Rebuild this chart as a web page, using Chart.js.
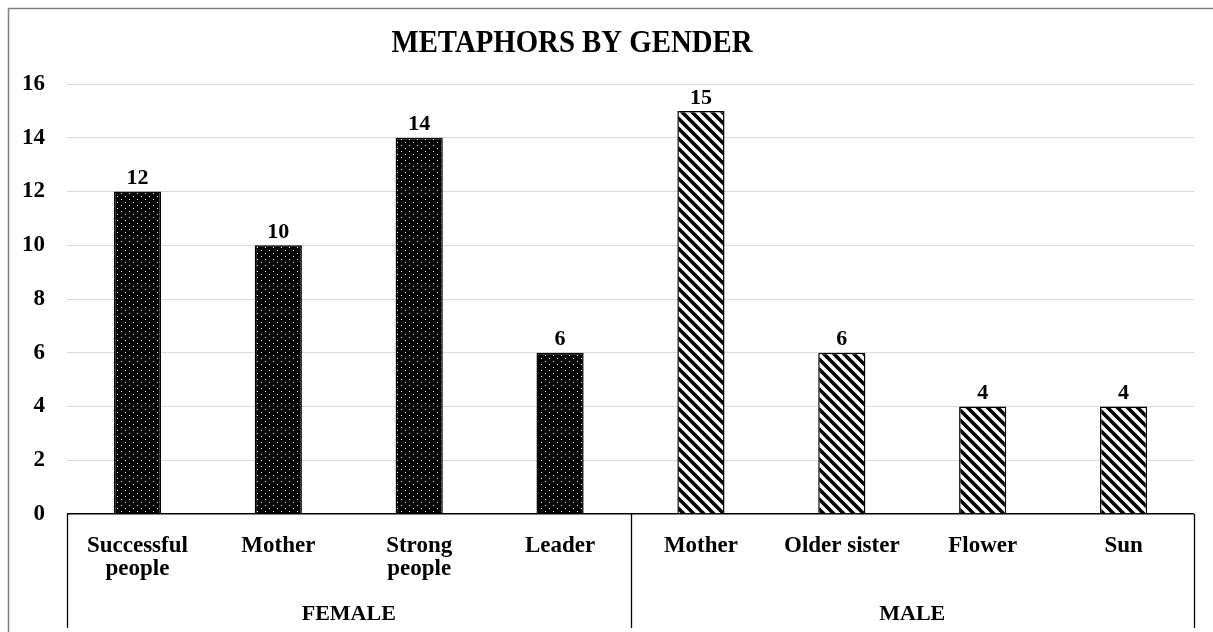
<!DOCTYPE html>
<html>
<head>
<meta charset="utf-8">
<title>Metaphors by gender</title>
<script src="https://cdn.jsdelivr.net/npm/chart.js@4/dist/chart.umd.min.js"></script>
<style>
  html, body { margin: 0; padding: 0; background: #ffffff; }
  #wrap { width: 1213px; height: 632px; position: relative; }
</style>
</head>
<body>
<div id="wrap"><canvas id="chart" width="1213" height="632"></canvas></div>
<script>
// Chart data
const chartTitle = 'METAPHORS BY GENDER';
const femaleCategories = [['Successful', 'people'], 'Mother', ['Strong', 'people'], 'Leader'];
const maleCategories = ['Mother', 'Older sister', 'Flower', 'Sun'];
const femaleValues = [12, 10, 14, 6];
const maleValues = [15, 6, 4, 4];
const groupNames = ['FEMALE', 'MALE'];
const yTicks = [0, 2, 4, 6, 8, 10, 12, 14, 16];

const SERIF = '"Liberation Serif", "Times New Roman", serif';

// Fill patterns: black with white dots, and white with dark downward diagonals
function dottedPattern() {
  const c = document.createElement('canvas');
  c.width = 8; c.height = 6;
  const g = c.getContext('2d');
  g.fillStyle = '#000';
  g.fillRect(0, 0, 8, 6);
  g.fillStyle = '#fff';
  g.fillRect(1, 1, 1, 1);
  g.fillRect(5, 4, 1, 1);
  return g.createPattern(c, 'repeat');
}
function diagonalPattern() {
  const s = 10;
  const c = document.createElement('canvas');
  c.width = s; c.height = s;
  const g = c.getContext('2d');
  g.fillStyle = '#fff';
  g.fillRect(0, 0, s, s);
  g.strokeStyle = '#000';
  g.lineWidth = 3.6;
  g.beginPath();
  for (const off of [-s, 0, s]) {
    g.moveTo(off - 1, -1);
    g.lineTo(off + s + 1, s + 1);
  }
  g.stroke();
  return g.createPattern(c, 'repeat');
}

const labels = femaleCategories.concat(maleCategories);
const values = femaleValues.concat(maleValues);
const dotFill = dottedPattern();
const hatchFill = diagonalPattern();
const fills = femaleValues.map(() => dotFill).concat(maleValues.map(() => hatchFill));
const groups = [
  { name: groupNames[0], from: 0, to: femaleValues.length - 1 },
  { name: groupNames[1], from: femaleValues.length, to: labels.length - 1 }
];

// Frame, title, value labels and the two-level category axis
const decorations = {
  id: 'decorations',
  beforeDraw(chart) {
    const ctx = chart.ctx;
    ctx.save();
    ctx.fillStyle = '#fff';
    ctx.fillRect(0, 0, chart.width, chart.height);
    ctx.strokeStyle = '#7f7f7f';
    ctx.lineWidth = 1.5;
    ctx.beginPath();
    ctx.moveTo(8.5, chart.height);
    ctx.lineTo(8.5, 8.5);
    ctx.lineTo(chart.width, 8.5);
    ctx.stroke();
    ctx.restore();
  },
  afterDraw(chart) {
    const ctx = chart.ctx;
    const area = chart.chartArea;
    const x = chart.scales.x;
    ctx.save();
    // title, slightly tall letterforms
    ctx.fillStyle = '#000';
    ctx.save();
    ctx.translate(572, 52);
    ctx.scale(1, 1.12);
    ctx.font = 'bold 28.8px ' + SERIF;
    ctx.textAlign = 'center';
    ctx.textBaseline = 'alphabetic';
    ctx.fillText(chartTitle, 0, 0);
    ctx.restore();

    // value labels
    ctx.textAlign = 'center';
    ctx.font = 'bold 22px ' + SERIF;
    ctx.textBaseline = 'bottom';
    const meta = chart.getDatasetMeta(0);
    meta.data.forEach((bar, i) => {
      ctx.fillText(String(values[i]), bar.x, bar.y - 2);
    });

    // category separators
    const half = (x.getPixelForValue(1) - x.getPixelForValue(0)) / 2;
    const lineBottom = chart.height - 4;
    ctx.strokeStyle = '#000';
    ctx.lineWidth = 1.3;
    const edges = [x.getPixelForValue(0) - half];
    groups.forEach(g => edges.push(x.getPixelForValue(g.to) + half));
    ctx.beginPath();
    edges.forEach(px => {
      const p = Math.round(px) + 0.5;
      ctx.moveTo(p, area.bottom);
      ctx.lineTo(p, lineBottom);
    });
    ctx.stroke();

    // group names
    ctx.font = 'bold 22px ' + SERIF;
    ctx.textBaseline = 'middle';
    groups.forEach(g => {
      const cx = (x.getPixelForValue(g.from) + x.getPixelForValue(g.to)) / 2;
      ctx.fillText(g.name, cx, 614);
    });
    ctx.restore();
  }
};

new Chart(document.getElementById('chart'), {
  type: 'bar',
  data: {
    labels: labels,
    datasets: [{
      data: values,
      backgroundColor: fills,
      borderColor: '#000',
      borderWidth: 1.5,
      categoryPercentage: 1,
      barPercentage: 0.335
    }]
  },
  options: {
    responsive: false,
    animation: false,
    devicePixelRatio: 1,
    layout: { padding: { left: 8, right: 19, top: 84, bottom: 0 } },
    plugins: {
      legend: { display: false },
      tooltip: { enabled: false },
      title: { display: false }
    },
    scales: {
      x: {
        grid: { display: false },
        border: { display: false },
        ticks: {
          color: '#000',
          font: { family: SERIF, size: 23, weight: 'bold', lineHeight: 1.0 },
          padding: 13,
          maxRotation: 0,
          autoSkip: false
        },
        afterFit(scale) { scale.height = 118; }
      },
      y: {
        min: yTicks[0],
        max: yTicks[yTicks.length - 1],
        afterBuildTicks(scale) { scale.ticks = yTicks.map(v => ({ value: v })); },
        grid: {
          color: ctx => (ctx.tick && ctx.tick.value === 0 ? '#000' : '#d9d9d9'),
          lineWidth: ctx => (ctx.tick && ctx.tick.value === 0 ? 1.5 : 1),
          drawTicks: false
        },
        border: { display: false },
        ticks: {
          color: '#000',
          font: { family: SERIF, size: 23, weight: 'bold' },
          padding: 22
        },
        afterFit(scale) { scale.width = 59; }
      }
    }
  },
  plugins: [decorations]
});
</script>
</body>
</html>
